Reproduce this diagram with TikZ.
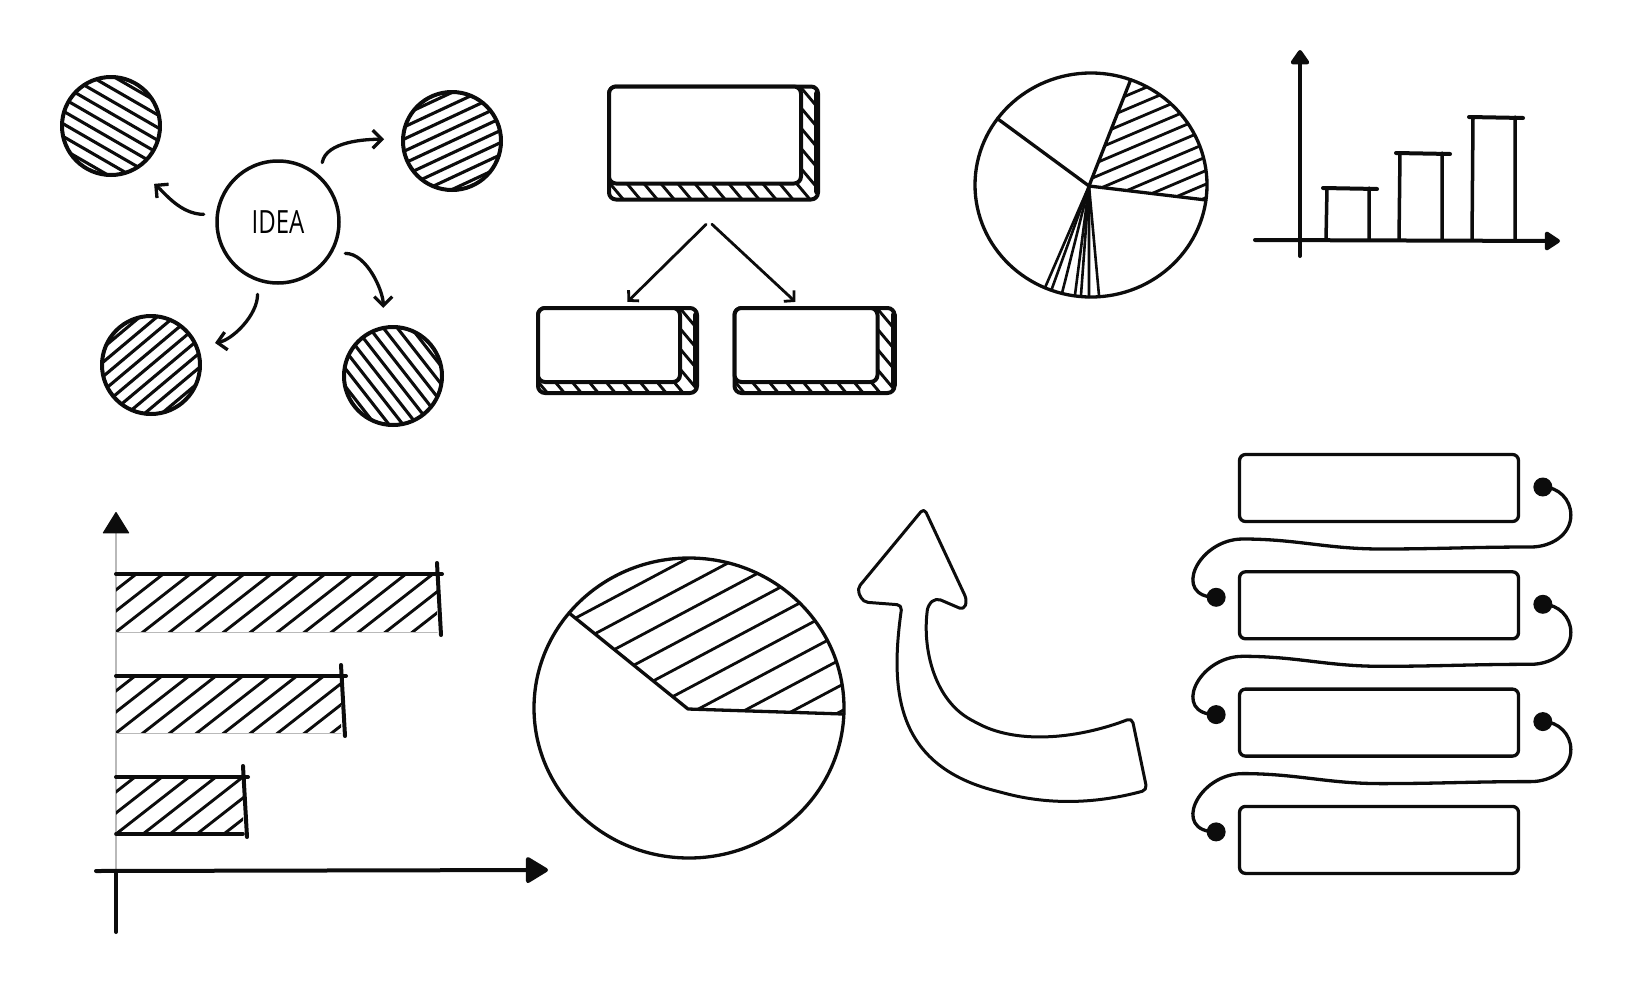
\documentclass[tikz,border=0pt]{standalone}
\usepackage{fontspec}
\setmainfont{Open Sans}
\usepackage{tikz}
\usetikzlibrary{arrows.meta,positioning,calc}
\definecolor{myink}{RGB}{12,12,12}
\definecolor{mygray}{RGB}{185,185,185}

\begin{document}
\begin{tikzpicture}[x=1pt, y=-1pt, line cap=round, line join=round,
  ink/.style={draw=myink, line width=4pt},
  hatchln/.style={draw=myink, line width=3.1pt},
  pieln/.style={draw=myink, line width=3.3pt},
  hcirc/.style={circle, ink, minimum size=98pt, inner sep=0pt},
  ideacirc/.style={circle, draw=myink, line width=3.5pt, minimum size=122pt, inner sep=0pt},
  marr/.style={draw=myink, line width=3.3pt, -{Straight Barb[length=9pt, width=18pt]}},
  fbox/.style={draw=myink, line width=4pt, fill=white, rounded corners=7pt, inner sep=0pt},
  farr/.style={draw=myink, line width=2.8pt, -{Straight Barb[length=7pt, width=15pt]}},
  lbox/.style={draw=myink, line width=3.3pt, rounded corners=6pt, minimum width=279pt, minimum height=67pt, inner sep=0pt},
  dot/.style={circle, fill=myink, minimum size=19pt, inner sep=0pt},
  link/.style={draw=myink, line width=3.3pt}]
  \useasboundingbox (0,0) rectangle (1633,980);

  % Mind map
  \node[ideacirc, font=\fontsize{32}{32}\selectfont] (idea) at (278,222) {\scalebox{0.75}[1]{IDEA}};
  \node[hcirc] (c1) at (111,126) {};
  \node[hcirc] (c2) at (452,141) {};
  \node[hcirc] (c3) at (151,365) {};
  \node[hcirc] (c4) at (393,376) {};
  \foreach \n/\a in {c1/-30, c2/25, c3/40, c4/-52}{
    \begin{scope}
      \clip (\n) circle[radius=49];
      \foreach \k in {-5,...,5}
        \draw[hatchln, shift={(\n)}, rotate=\a] (-60,\k*11) -- (60,\k*11);
    \end{scope}
  }
  \draw[marr, shorten <=12pt, shorten >=22pt] (idea.173) to[out=180, in=-40] (c1.-59);
  \draw[marr, shorten <=13pt, shorten >=17pt] (idea.48) to[out=80, in=180] (c2.178);
  \draw[marr, shorten <=13pt, shorten >=18pt] (idea.-30) to[out=0, in=90] (c4.101);
  \draw[marr, shorten <=13pt, shorten >=17pt] (idea.-109) to[out=-90, in=10] (c3.22);

  % Flow chart boxes
  \foreach \n/\cx/\cy/\w/\h/\d in {top/705/135/192/97/16, left/609/345/142/74/11, right/806/345/143/74/11}{
    \begin{scope}
      \clip[rounded corners=7pt] (\cx-\w/2,\cy-\h/2) rectangle (\cx+\w/2+17,\cy+\h/2+\d);
      \foreach \k in {-12,...,12}
        \draw[hatchln, line width=2.9pt, shift={(\cx,\cy)}, rotate=-50] (-200,\k*13) -- (200,\k*13);
    \end{scope}
    \draw[ink, rounded corners=7pt] (\cx-\w/2,\cy-\h/2) rectangle (\cx+\w/2+17,\cy+\h/2+\d);
    \draw[myink, line width=6pt] (\cx+\w/2+16,\cy-\h/2+7) -- (\cx+\w/2+16,\cy+\h/2+\d-8);
    \node[fbox, minimum width=\w pt, minimum height=\h pt] (\n) at (\cx,\cy) {};
  }
  \coordinate (split) at ($(top.south)+(4,36)$);
  \draw[farr, shorten <=4pt, shorten >=6pt] (split) -- (left.70);
  \draw[farr, shorten <=4pt, shorten >=6pt] (split) -- (right.99);

  % Pie chart, top
  \coordinate (pc) at (1091,185);
  \coordinate (hub) at (1089,186);
  \begin{scope}
    \clip (hub) -- ($(pc)+(290:116 and 112)$) arc[start angle=290, end angle=367.7, x radius=116, y radius=112] -- cycle;
    \foreach \k in {-8,...,8}
      \draw[hatchln, line width=2.8pt, shift={(1150,140)}, rotate=23] (-150,\k*12.5) -- (150,\k*12.5);
  \end{scope}
  \draw[pieln] (pc) ellipse[x radius=116, y radius=112];
  \foreach \a in {216.3, 290, 367.7}
    \draw[pieln] (hub) -- ($(pc)+(\a:116 and 112)$);
  \foreach \a in {86, 91, 95, 98, 104.5, 110, 113.4}
    \draw[pieln, line width=2.6pt] (hub) -- ($(pc)+(\a:116 and 112)$);

  % Bar chart, top
  \draw[ink, -{Triangle[round, length=16pt, width=21pt]}] (1300,256) -- (1300,50);
  \draw[ink, -{Triangle[round, length=17pt, width=21pt]}] (1255,240) -- (1560,241);
  \foreach \x/\h in {1326/188, 1399/153, 1472/117}{
    \draw[ink, line width=3.5pt] (\x,240) -- (\x+1,\h) (\x+43,240) -- (\x+43,\h);
    \draw[ink] (\x-3,\h) -- (\x+51,\h+1);
  }

  % Bar chart, bottom left
  \draw[mygray, line width=1.2pt, -{Triangle[round, length=22pt, width=27pt, color=myink]}] (116,870) -- (116,512);
  \draw[ink] (116,871) -- (116,932);
  \draw[ink, -{Triangle[round, length=24pt, width=28pt]}] (96,871) -- (548,870);
  \foreach \t/\b/\r/\c/\lw in {574/632/437/mygray/1pt, 676/733/341/mygray/1pt, 777/834/243/myink/3.6pt}{
    \begin{scope}
      \clip (116,\t) rectangle (\r,\b);
      \foreach \k in {-6,...,16}
        \draw[hatchln, line width=2.9pt, shift={(116,\b)}, rotate=38] (-60,\k*16.6) -- (500,\k*16.6);
    \end{scope}
    \draw[\c, line width=\lw] (116,\b) -- (\r,\b);
    \draw[ink] (116,\t) -- (\r+5,\t);
    \draw[ink] (\r,\t-11) -- (\r+4,\b+3);
  }

  % Pie chart, bottom
  \coordinate (qc) at (689,708);
  \coordinate (qhub) at (688,709);
  \begin{scope}
    \clip (qhub) -- ($(qc)+(219.3:155 and 150)$) arc[start angle=219.3, end angle=362.3, x radius=155, y radius=150] -- cycle;
    \foreach \k in {-8,...,8}
      \draw[hatchln, line width=2.8pt, shift={(700,630)}, rotate=28] (-250,\k*23) -- (250,\k*23);
  \end{scope}
  \draw[pieln] (qc) ellipse[x radius=155, y radius=150];
  \draw[pieln] ($(qc)+(219.3:155 and 150)$) -- (qhub) -- ($(qc)+(362.3:155 and 150)$);

  % Curved arrow
  \draw[myink, line width=3pt, rounded corners=5pt]
    (924,508) -- (857,589) -- (863,602) -- (902,605)
    .. controls (890,690) and (895,765) .. (1000,792)
    .. controls (1060,808) and (1110,800) .. (1147,790)
    -- (1132,718)
    .. controls (1080,738) and (1020,745) .. (975,722)
    .. controls (935,700) and (922,650) .. (928,605)
    -- (936,598) -- (964,610) -- (967,600) -- cycle;

  % Linked list boxes
  \node[lbox] (b1) at (1379,488) {};
  \node[lbox, below=47pt of b1] (b2) {};
  \node[lbox, below=47pt of b2] (b3) {};
  \node[lbox, below=47pt of b3] (b4) {};
  \foreach \i in {1,2,3}
    \node[dot, right=13pt of b\i, yshift=1pt] (r\i) {};
  \foreach \i in {2,3,4}
    \node[dot, left=12pt of b\i, yshift=8pt] (l\i) {};
  \foreach \i/\j in {1/2, 2/3, 3/4}
    \draw[link] (r\i.center) to[out=0, in=90] ++(28,28) to[out=-90, in=0] ++(-40,32)
      to[out=180, in=0] ++(-150,2) to[out=180, in=0] ++(-138,-10)
      to[out=180, in=180, looseness=1.8] (l\j.center);
\end{tikzpicture}
\end{document}
